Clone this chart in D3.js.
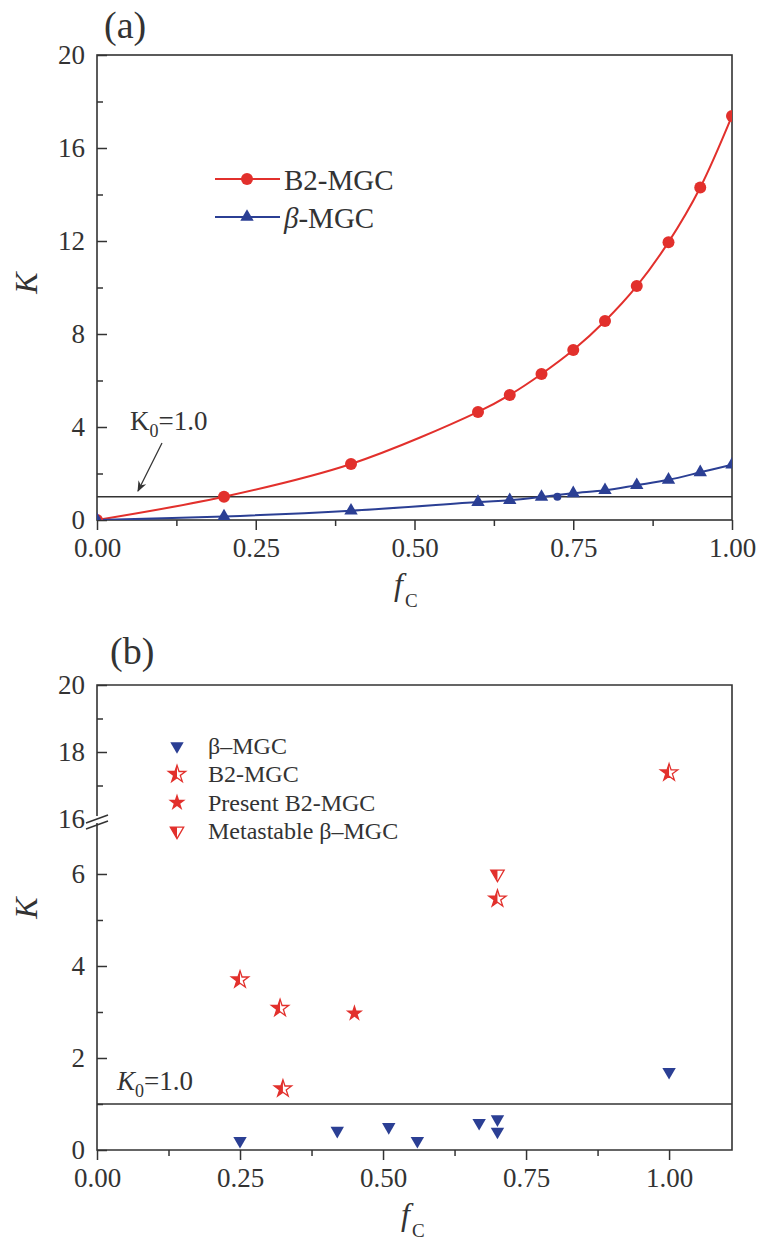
<!DOCTYPE html>
<html>
<head>
<meta charset="utf-8">
<script src="https://cdn.jsdelivr.net/npm/d3@7"></script>
<style>
  body { margin: 0; background: #fff; }
  svg text { font-family: "Liberation Serif", "Times New Roman", serif; fill: #333; }
</style>
</head>
<body>
<script>
// ---- panel (a) data ----
var fcA = [0, 0.2, 0.4, 0.6, 0.65, 0.7, 0.75, 0.8, 0.85, 0.9, 0.95, 1.0];
var kB2A = [0, 1.0, 2.41, 4.65, 5.38, 6.28, 7.31, 8.56, 10.06, 11.95, 14.3, 17.38];
var kBetaA = [0, 0.15, 0.4, 0.77, 0.85, 0.99, 1.15, 1.28, 1.5, 1.73, 2.05, 2.38];
var crossFc = [0.725], crossK = [1.0];
var xTicks = [0, 0.25, 0.5, 0.75, 1.0];
var xMinor = [0.125, 0.375, 0.625, 0.875];
var yTicksA = [0, 4, 8, 12, 16, 20];
var yMinorA = [2, 6, 10, 14, 18];
var K0 = 1.0;

// ---- panel (b) data ----
var betaFc = [0.25, 0.42, 0.51, 0.56, 0.668, 0.70, 0.70, 1.0];
var betaK = [0.2, 0.42, 0.5, 0.2, 0.59, 0.67, 0.4, 1.7];
var b2Fc = [0.25, 0.32, 0.325, 0.70, 1.0];
var b2K = [3.7, 3.08, 1.33, 5.46, 17.38];
var presentFc = [0.45];
var presentK = [2.97];
var metaFc = [0.70];
var metaK = [6.0];
var yTicksLow = [0, 2, 4, 6];
var yMinorLow = [1, 3, 5];
var yTicksHigh = [16, 18, 20];
var yMinorHigh = [17, 19];
var legendB = ["β–MGC", "B2-MGC", "Present B2-MGC", "Metastable β–MGC"];

var red = "#e2302c", blue = "#2b3f94", ink = "#333";
var serif = "'Liberation Serif', 'Times New Roman', serif";

var svg = d3.select("body").append("svg")
    .attr("width", 764).attr("height", 1245)
    .attr("font-family", serif);

var defs = svg.append("defs");
defs.append("marker").attr("id", "arrow")
    .attr("viewBox", "0 0 10 10").attr("refX", 9).attr("refY", 5)
    .attr("markerWidth", 9).attr("markerHeight", 9).attr("orient", "auto")
  .append("path").attr("d", "M0,1 L10,5 L0,9 L3,5 Z").attr("fill", ink);
defs.append("clipPath").attr("id", "leftHalf")
  .append("rect").attr("x", -20).attr("y", -20).attr("width", 20).attr("height", 40);
defs.append("clipPath").attr("id", "rightHalf")
  .append("rect").attr("x", 0).attr("y", -20).attr("width", 20).attr("height", 40);

function styleAxis(g) {
    g.attr("font-family", serif).attr("font-size", 27);
    g.select(".domain").remove();
    g.selectAll("line").attr("stroke", ink).attr("stroke-width", 1.5);
    g.selectAll("text").attr("fill", ink);
}

var tri = d3.symbol(d3.symbolTriangle, 78);
var star = d3.symbol(d3.symbolStar, 92);

// =============== PANEL (a) ===============
var xA = d3.scaleLinear([0, 1], [97, 732]);
var yA = d3.scaleLinear([0, 20], [520, 55]);

svg.append("clipPath").attr("id", "plotA")
  .append("rect").attr("x", 97).attr("y", 55).attr("width", 635).attr("height", 465);

svg.append("g").attr("transform", "translate(0,520)")
    .call(d3.axisBottom(xA).tickValues(xTicks).tickFormat(d3.format(".2f")).tickSize(10).tickPadding(8))
    .call(styleAxis);
svg.append("g").attr("transform", "translate(0,520)")
    .call(d3.axisBottom(xA).tickValues(xMinor).tickFormat("").tickSize(6))
    .call(styleAxis);
svg.append("g").attr("transform", "translate(97,0)")
    .call(d3.axisLeft(yA).tickValues(yTicksA).tickFormat(d3.format("d")).tickSizeInner(-10).tickSizeOuter(0).tickPadding(12))
    .call(styleAxis);
svg.append("g").attr("transform", "translate(97,0)")
    .call(d3.axisLeft(yA).tickValues(yMinorA).tickFormat("").tickSizeInner(-6).tickSizeOuter(0))
    .call(styleAxis);

svg.append("rect").attr("x", 97).attr("y", 55).attr("width", 635).attr("height", 465)
    .attr("fill", "none").attr("stroke", ink).attr("stroke-width", 1.6);

svg.append("line").attr("x1", xA(0)).attr("x2", xA(1)).attr("y1", yA(K0)).attr("y2", yA(K0))
    .attr("stroke", ink).attr("stroke-width", 1.6);

var plotA = svg.append("g").attr("clip-path", "url(#plotA)");
var lineA = d3.line().curve(d3.curveCatmullRom).x(d => xA(d[0])).y(d => yA(d[1]));

plotA.append("path").datum(d3.zip(fcA, kB2A)).attr("d", lineA)
    .attr("fill", "none").attr("stroke", red).attr("stroke-width", 2);
plotA.append("path").datum(d3.zip(fcA, kBetaA)).attr("d", lineA)
    .attr("fill", "none").attr("stroke", blue).attr("stroke-width", 2);

plotA.selectAll(".redDot").data(d3.zip(fcA, kB2A)).enter().append("circle")
    .attr("cx", d => xA(d[0])).attr("cy", d => yA(d[1])).attr("r", 6).attr("fill", red);
plotA.selectAll(".blueTri").data(d3.zip(fcA, kBetaA)).enter().append("path")
    .attr("d", tri).attr("transform", d => `translate(${xA(d[0])},${yA(d[1])})`).attr("fill", blue);
plotA.selectAll(".cross").data(d3.zip(crossFc, crossK)).enter().append("circle")
    .attr("cx", d => xA(d[0])).attr("cy", d => yA(d[1])).attr("r", 4).attr("fill", blue);

// legend (a)
var legA = [["B2-MGC", red, "circle"], ["β-MGC", blue, "tri"]];
legA.forEach(function(l, i) {
    var y = 179 + i * 38;
    svg.append("line").attr("x1", 215).attr("x2", 280).attr("y1", y).attr("y2", y)
        .attr("stroke", l[1]).attr("stroke-width", 2);
    if (l[2] === "circle") {
        svg.append("circle").attr("cx", 247).attr("cy", y).attr("r", 6).attr("fill", l[1]);
    } else {
        svg.append("path").attr("d", tri).attr("transform", `translate(247,${y})`).attr("fill", l[1]);
    }
    var t = svg.append("text").attr("x", 284).attr("y", y + 11).attr("font-size", 29);
    if (i === 1) {
        t.append("tspan").attr("font-style", "italic").text("β");
        t.append("tspan").text("-MGC");
    } else {
        t.text(l[0]);
    }
});

// K0 label with arrow (a)
var k0a = svg.append("text").attr("x", 130).attr("y", 430).attr("font-size", 27);
k0a.append("tspan").text("K");
k0a.append("tspan").attr("dy", 7).attr("font-size", 18).text("0");
k0a.append("tspan").attr("dy", -7).text("=1.0");
svg.append("line").attr("x1", 162).attr("y1", 443).attr("x2", 138).attr("y2", 491)
    .attr("stroke", ink).attr("stroke-width", 1.2).attr("marker-end", "url(#arrow)");

svg.append("text").attr("x", 104).attr("y", 38).attr("font-size", 38).text("(a)");
svg.append("text").attr("transform", "translate(37,283) rotate(-90)")
    .attr("text-anchor", "middle").attr("font-size", 32).attr("font-style", "italic").text("K");
var fa = svg.append("text").attr("x", 394).attr("y", 595).attr("font-size", 32);
fa.append("tspan").attr("font-style", "italic").text("f");
fa.append("tspan").attr("dx", 2).attr("dy", 12).attr("font-size", 19).text("C");

// =============== PANEL (b) ===============
var xB = d3.scaleLinear([0, 1.11], [97, 732]);
var yLow = d3.scaleLinear([0, 7.13], [1150, 822]);
var yHigh = d3.scaleLinear([16, 20], [819, 685]);
function yB(k) { return k >= 16 ? yHigh(k) : yLow(k); }

svg.append("g").attr("transform", "translate(0,1150)")
    .call(d3.axisBottom(xB).tickValues(xTicks).tickFormat(d3.format(".2f")).tickSize(10).tickPadding(8))
    .call(styleAxis);
svg.append("g").attr("transform", "translate(0,1150)")
    .call(d3.axisBottom(xB).tickValues(xMinor).tickFormat("").tickSize(6))
    .call(styleAxis);
svg.append("g").attr("transform", "translate(97,0)")
    .call(d3.axisLeft(yLow).tickValues(yTicksLow).tickFormat(d3.format("d")).tickSizeInner(-10).tickSizeOuter(0).tickPadding(12))
    .call(styleAxis);
svg.append("g").attr("transform", "translate(97,0)")
    .call(d3.axisLeft(yLow).tickValues(yMinorLow).tickFormat("").tickSizeInner(-6).tickSizeOuter(0))
    .call(styleAxis);
svg.append("g").attr("transform", "translate(97,0)")
    .call(d3.axisLeft(yHigh).tickValues(yTicksHigh).tickFormat(d3.format("d")).tickSizeInner(-10).tickSizeOuter(0).tickPadding(12))
    .call(styleAxis)
    .selectAll(".tick").filter(d => d === 16).select("line").remove();
svg.append("g").attr("transform", "translate(97,0)")
    .call(d3.axisLeft(yHigh).tickValues(yMinorHigh).tickFormat("").tickSizeInner(-6).tickSizeOuter(0))
    .call(styleAxis);

// frame with broken left axis
var frameB = svg.append("g").attr("stroke", ink).attr("stroke-width", 1.6).attr("fill", "none");
frameB.append("path").attr("d", `M97,816 V685 H732 V1150 H97 V823`);
frameB.append("line").attr("x1", 86).attr("y1", 823).attr("x2", 108).attr("y2", 815);
frameB.append("line").attr("x1", 86).attr("y1", 829).attr("x2", 108).attr("y2", 821);

svg.append("line").attr("x1", 97).attr("x2", 732).attr("y1", yB(K0)).attr("y2", yB(K0))
    .attr("stroke", ink).attr("stroke-width", 1.6);

function halfMarker(g, sym, rot, clipId) {
    g.append("path").attr("d", sym).attr("transform", `rotate(${rot})`)
        .attr("fill", "#fff").attr("stroke", red).attr("stroke-width", 1.3);
    g.append("path").attr("d", sym).attr("transform", `rotate(${rot})`)
        .attr("fill", red).attr("clip-path", `url(#${clipId})`);
}

svg.selectAll(".betaB").data(d3.zip(betaFc, betaK)).enter().append("path")
    .attr("d", tri).attr("transform", d => `translate(${xB(d[0])},${yB(d[1])}) rotate(180)`)
    .attr("fill", blue);
d3.zip(b2Fc, b2K).forEach(function(d) {
    var g = svg.append("g").attr("transform", `translate(${xB(d[0])},${yB(d[1])})`);
    halfMarker(g, star, 0, "leftHalf");
});
svg.selectAll(".presentB").data(d3.zip(presentFc, presentK)).enter().append("path")
    .attr("d", star).attr("transform", d => `translate(${xB(d[0])},${yB(d[1])})`)
    .attr("fill", red);
d3.zip(metaFc, metaK).forEach(function(d) {
    var g = svg.append("g").attr("transform", `translate(${xB(d[0])},${yB(d[1])})`);
    halfMarker(g, tri, 180, "rightHalf");
});

// legend (b)
legendB.forEach(function(name, i) {
    var y = 746 + i * 28.3;
    var g = svg.append("g").attr("transform", `translate(177,${y})`);
    if (i === 0) g.append("path").attr("d", tri).attr("transform", "rotate(180)").attr("fill", blue);
    if (i === 1) halfMarker(g, star, 0, "leftHalf");
    if (i === 2) g.append("path").attr("d", star).attr("fill", red);
    if (i === 3) halfMarker(g, tri, 180, "rightHalf");
    svg.append("text").attr("x", 208).attr("y", y + 8).attr("font-size", 24).text(name);
});

var k0b = svg.append("text").attr("x", 117).attr("y", 1090).attr("font-size", 27);
k0b.append("tspan").attr("font-style", "italic").text("K");
k0b.append("tspan").attr("dy", 7).attr("font-size", 18).text("0");
k0b.append("tspan").attr("dy", -7).text("=1.0");

svg.append("text").attr("x", 110).attr("y", 664).attr("font-size", 38).text("(b)");
svg.append("text").attr("transform", "translate(37,908) rotate(-90)")
    .attr("text-anchor", "middle").attr("font-size", 32).attr("font-style", "italic").text("K");
var fb = svg.append("text").attr("x", 401).attr("y", 1225).attr("font-size", 32);
fb.append("tspan").attr("font-style", "italic").text("f");
fb.append("tspan").attr("dx", 2).attr("dy", 12).attr("font-size", 19).text("C");
</script>
</body>
</html>
